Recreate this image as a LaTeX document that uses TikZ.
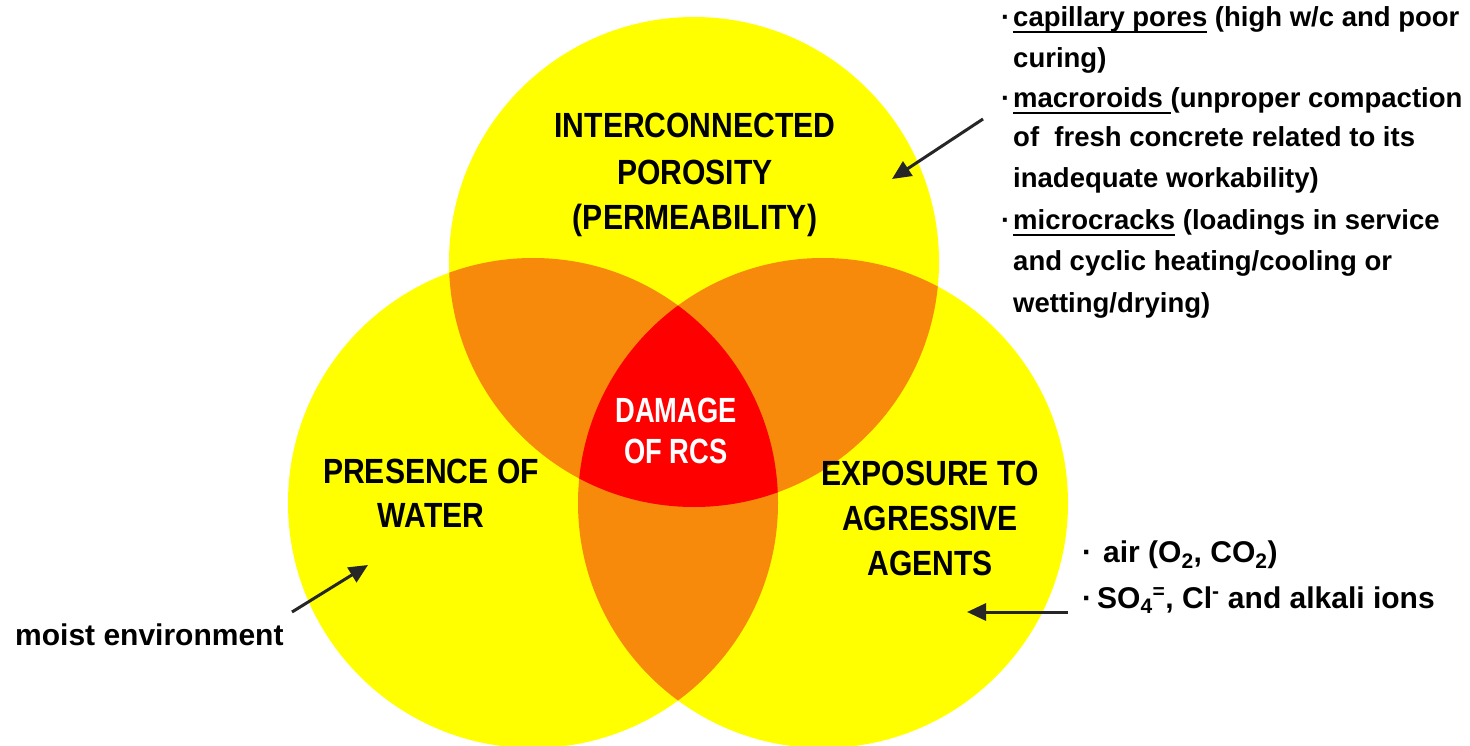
\documentclass[tikz,border=0pt]{standalone}
\usepackage{fontspec}
\setmainfont{Liberation Sans}
\newfontfamily\circlefont{Liberation Sans}[FakeStretch=0.86]
\newfontfamily\centrefont{Liberation Sans}[FakeStretch=0.78]
\usetikzlibrary{arrows.meta}
\definecolor{vyellow}{RGB}{255,255,0}
\definecolor{vorange}{RGB}{247,138,10}
\definecolor{vred}{RGB}{255,0,0}
% underline at a fixed depth below the baseline
\newcommand\ulword[1]{\sbox0{#1}\rlap{\rule[-6pt]{\wd0}{2.2pt}}\usebox0}
\newcommand\bul[1]{\llap{\textperiodcentered\hspace{#1}}}
\begin{document}
\begin{tikzpicture}[x=1pt,y=-1pt,
  lbl/.style={font=\circlefont\bfseries\fontsize{35}{42}\selectfont, anchor=base, inner sep=0pt, text=black},
  dmg/.style={font=\centrefont\bfseries\fontsize{35}{42}\selectfont, anchor=base, inner sep=0pt, text=white},
  body/.style={font=\bfseries\fontsize{27.5}{34}\selectfont, anchor=base west, inner sep=0pt, text=black},
  note/.style={font=\bfseries\fontsize{30}{36}\selectfont, anchor=base west, inner sep=0pt, text=black},
  arr/.style={-{Triangle[length=19pt,width=17pt]}, line width=3pt, draw=black!85}]
\useasboundingbox (0,0) rectangle (1470,746);
\fill[white] (0,0) rectangle (1470,746);

% circle centres
\coordinate (cT) at (694,262);
\coordinate (cL) at (533,503);
\coordinate (cR) at (823,503);
\def\rad{245pt}

% the three sets
\fill[vyellow] (cT) circle[radius=\rad];
\fill[vyellow] (cL) circle[radius=\rad];
\fill[vyellow] (cR) circle[radius=\rad];

% pairwise overlaps
\begin{scope}
  \clip (cT) circle[radius=\rad];
  \fill[vorange] (cL) circle[radius=\rad];
  \fill[vorange] (cR) circle[radius=\rad];
\end{scope}
\begin{scope}
  \clip (cL) circle[radius=\rad];
  \fill[vorange] (cR) circle[radius=\rad];
\end{scope}

% common overlap
\begin{scope}
  \clip (cT) circle[radius=\rad];
  \clip (cL) circle[radius=\rad];
  \fill[vred] (cR) circle[radius=\rad];
\end{scope}

% set labels
\node[lbl] (t1) at (695,138) {INTERCONNECTED};
\node[lbl] (t2) at (695,185) {POROSITY};
\node[lbl] (t3) at (695,230) {(PERMEABILITY)};
\node[lbl] (w1) at (431,483) {PRESENCE OF};
\node[lbl] (w2) at (431,527) {WATER};
\node[lbl] (e1) at (930,485) {EXPOSURE TO};
\node[lbl] (e2) at (930,530) {AGRESSIVE};
\node[lbl] (e3) at (930,575) {AGENTS};
\node[dmg] (d1) at (676,422) {DAMAGE};
\node[dmg] (d2) at (676,463) {OF RCS};

% causes of porosity
\node[body] (p1) at (1013,27)  {\bul{3pt}\ulword{capillary pores} (high w/c and poor};
\node[body] (p2) at (1013,68)  {curing)};
\node[body] (p3) at (1013,108) {\bul{3pt}\ulword{macroroids\ }(unproper compaction};
\node[body] (p4) at (1013,147) {of\ \ fresh concrete related to its};
\node[body] (p5) at (1013,188) {inadequate workability)};
\node[body] (p6) at (1013,230) {\bul{3pt}\ulword{microcracks} (loadings in service};
\node[body] (p7) at (1013,270) {and cyclic heating/cooling or};
\node[body] (p8) at (1013,312) {wetting/drying)};

% aggressive agents
\node[note] (g1) at (1103,562) {\bul{11pt}air (O\textsubscript{2}, CO\textsubscript{2})};
\node[note] (g2) at (1097,608) {\bul{5pt}SO\textsubscript{4}\textsuperscript{=}, Cl\textsuperscript{-} and alkali ions};

% water source
\node[note] (m1) at (15,645) {moist environment};

% pointers
\coordinate (pTail) at (983,119);
\coordinate (pTip)  at (892,179);
\coordinate (wTail) at (292,612);
\coordinate (wTip)  at (368,565);
\coordinate (aTail) at (1068,612);
\coordinate (aTip)  at (967,612);
\draw[arr] (pTail) -- (pTip);
\draw[arr] (wTail) -- (wTip);
\draw[arr] (aTail) -- (aTip);
\end{tikzpicture}
\end{document}
